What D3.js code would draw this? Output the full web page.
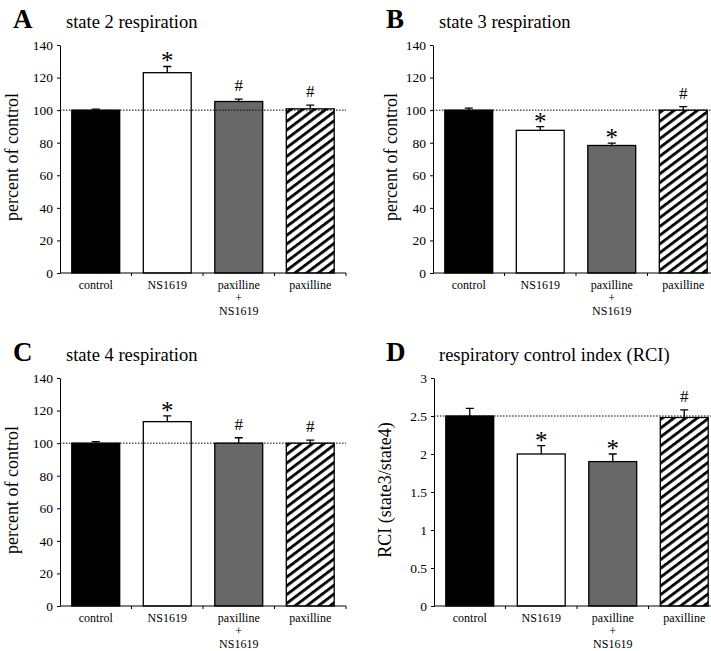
<!DOCTYPE html>
<html>
<head>
<meta charset="utf-8">
<script src="https://cdn.jsdelivr.net/npm/d3@7"></script>
<style>
  body { margin: 0; background: #fff; }
  svg { display: block; }
  svg text { font-family: "Liberation Serif", "Times New Roman", Times, serif; }
</style>
</head>
<body>
<div id="container"></div>
<script>
// <------ data ------>
const categories = [["control"], ["NS1619"], ["paxilline", "+", "NS1619"], ["paxilline"]];
const fills = ["black", "white", "#686868", "hatch"];

const state2 = [100, 123, 105.3, 100.8];
const state2Err = [0.6, 3.8, 1.5, 2.3];
const state2Marks = ["", "*", "#", "#"];

const state3 = [100, 87.6, 78.3, 100];
const state3Err = [1.3, 2.3, 1.4, 2.1];
const state3Marks = ["", "*", "*", "#"];

const state4 = [100, 113.2, 100, 100];
const state4Err = [0.9, 3.6, 3.3, 1.8];
const state4Marks = ["", "*", "#", "#"];

const rci = [2.5, 2.0, 1.9, 2.48];
const rciErr = [0.1, 0.11, 0.1, 0.1];
const rciMarks = ["", "*", "*", "#"];

const pctTicks = [0, 20, 40, 60, 80, 100, 120, 140];
const rciTicks = [0, 0.5, 1, 1.5, 2, 2.5, 3];

const serif = "Liberation Serif, Times New Roman, Times, serif";

// <------ canvas ------>
let viz = d3.select("#container")
  .append("svg")
    .attr("width", 711)
    .attr("height", 651)
    .attr("font-family", serif);

// diagonal hatch for the paxilline bar
let defs = viz.append("defs");
let pat = defs.append("pattern")
    .attr("id", "hatch")
    .attr("patternUnits", "userSpaceOnUse")
    .attr("width", 7)
    .attr("height", 7)
    .attr("patternTransform", "rotate(53)");
pat.append("rect").attr("width", 7).attr("height", 7).attr("fill", "white");
pat.append("line")
    .attr("x1", 0).attr("y1", 0).attr("x2", 0).attr("y2", 7)
    .attr("stroke", "black").attr("stroke-width", 5.6);

let panels = [
  {letter: "A", title: "state 2 respiration", ylabel: "percent of control", vals: state2, err: state2Err, marks: state2Marks, ticks: pctTicks, max: 140, ref: 100, x0: 60, y0: 45, lx: 18, tx: 13},
  {letter: "B", title: "state 3 respiration", ylabel: "percent of control", vals: state3, err: state3Err, marks: state3Marks, ticks: pctTicks, max: 140, ref: 100, x0: 433, y0: 45, lx: 397, tx: 386},
  {letter: "C", title: "state 4 respiration", ylabel: "percent of control", vals: state4, err: state4Err, marks: state4Marks, ticks: pctTicks, max: 140, ref: 100, x0: 60, y0: 378, lx: 18, tx: 13},
  {letter: "D", title: "respiratory control index (RCI)", ylabel: "RCI (state3/state4)", vals: rci, err: rciErr, marks: rciMarks, ticks: rciTicks, max: 3, ref: 2.5, x0: 434, y0: 378, lx: 391, tx: 386}
];

const plotW = 286;
const plotH = 228;

panels.forEach(function(p){
  let g = viz.append("g").attr("transform", "translate(" + p.x0 + "," + p.y0 + ")");

  let x = d3.scaleBand().domain(d3.range(categories.length)).range([0, plotW]).paddingInner(0.33).paddingOuter(0.165);
  let y = d3.scaleLinear().domain([0, p.max]).range([plotH, 0]);

  // title
  viz.append("text")
    .attr("x", p.tx).attr("y", p.y0 - 17)
    .style("font-size", "27px").style("font-weight", "bold")
    .text(p.letter);
  viz.append("text")
    .attr("x", p.tx + 53).attr("y", p.y0 - 17)
    .style("font-size", "18.5px")
    .text(p.title);

  // y label
  viz.append("text")
    .attr("transform", "translate(" + p.lx + "," + (p.y0 + plotH / 2 - 2) + ") rotate(-90)")
    .attr("text-anchor", "middle")
    .style("font-size", "18px")
    .text(p.ylabel);

  // bars
  g.selectAll(".bar").data(p.vals).enter()
    .append("rect")
      .attr("class", "bar")
      .attr("x", (d, i) => x(i))
      .attr("y", d => y(d))
      .attr("width", x.bandwidth())
      .attr("height", d => plotH - y(d))
      .attr("fill", (d, i) => fills[i] == "hatch" ? "url(#hatch)" : fills[i])
      .attr("stroke", "black")
      .attr("stroke-width", 1.3);

  // error bars (upper only)
  g.selectAll(".err").data(p.vals).enter()
    .append("path")
      .attr("class", "err")
      .attr("d", (d, i) => {
        let cx = x(i) + x.bandwidth() / 2;
        let top = y(d + p.err[i]);
        return "M" + cx + "," + y(d) + "V" + top + "M" + (cx - 4) + "," + top + "H" + (cx + 4);
      })
      .attr("stroke", "black")
      .attr("stroke-width", 1.3)
      .attr("fill", "none");

  // significance marks
  g.selectAll(".mark").data(p.marks).enter()
    .append("text")
      .attr("class", "mark")
      .attr("x", (d, i) => x(i) + x.bandwidth() / 2)
      .attr("y", (d, i) => d == "*" ? y(p.vals[i] + p.err[i]) + 3 : y(p.vals[i] + p.err[i]) - 8)
      .attr("text-anchor", "middle")
      .style("font-size", d => d == "*" ? "25px" : "17px")
      .text(d => d);

  // reference dotted line
  g.append("line")
    .attr("x1", 0).attr("x2", plotW)
    .attr("y1", y(p.ref)).attr("y2", y(p.ref))
    .attr("stroke", "black")
    .attr("stroke-width", 1)
    .attr("stroke-dasharray", "1.5,1.5");

  // y axis
  let yAxis = g.append("g")
    .call(d3.axisLeft(y).tickValues(p.ticks).tickFormat(d => String(d)).tickSize(3).tickSizeOuter(0).tickPadding(4));
  yAxis.attr("font-family", serif);
  yAxis.selectAll("text").style("font-size", "13.5px");
  yAxis.select(".domain").attr("stroke-width", 1);

  // x axis
  let xAxis = g.append("g").attr("transform", "translate(0," + plotH + ")");
  xAxis.append("line").attr("x1", 0).attr("x2", plotW).attr("stroke", "black");
  xAxis.selectAll(".xt").data(d3.range(1, categories.length + 1)).enter()
    .append("line")
      .attr("x1", d => d * x.step()).attr("x2", d => d * x.step())
      .attr("y1", 0).attr("y2", 3)
      .attr("stroke", "black");
  let lab = xAxis.selectAll(".xl").data(categories).enter()
    .append("text")
      .attr("class", "xl")
      .attr("text-anchor", "middle")
      .attr("transform", (d, i) => "translate(" + (x(i) + x.bandwidth() / 2) + ",16)")
      .style("font-size", "12px");
  lab.selectAll("tspan").data(d => d).enter()
    .append("tspan")
      .attr("x", 0)
      .attr("dy", (d, j) => j == 0 ? 0 : 13)
      .text(d => d);
});
</script>
</body>
</html>
